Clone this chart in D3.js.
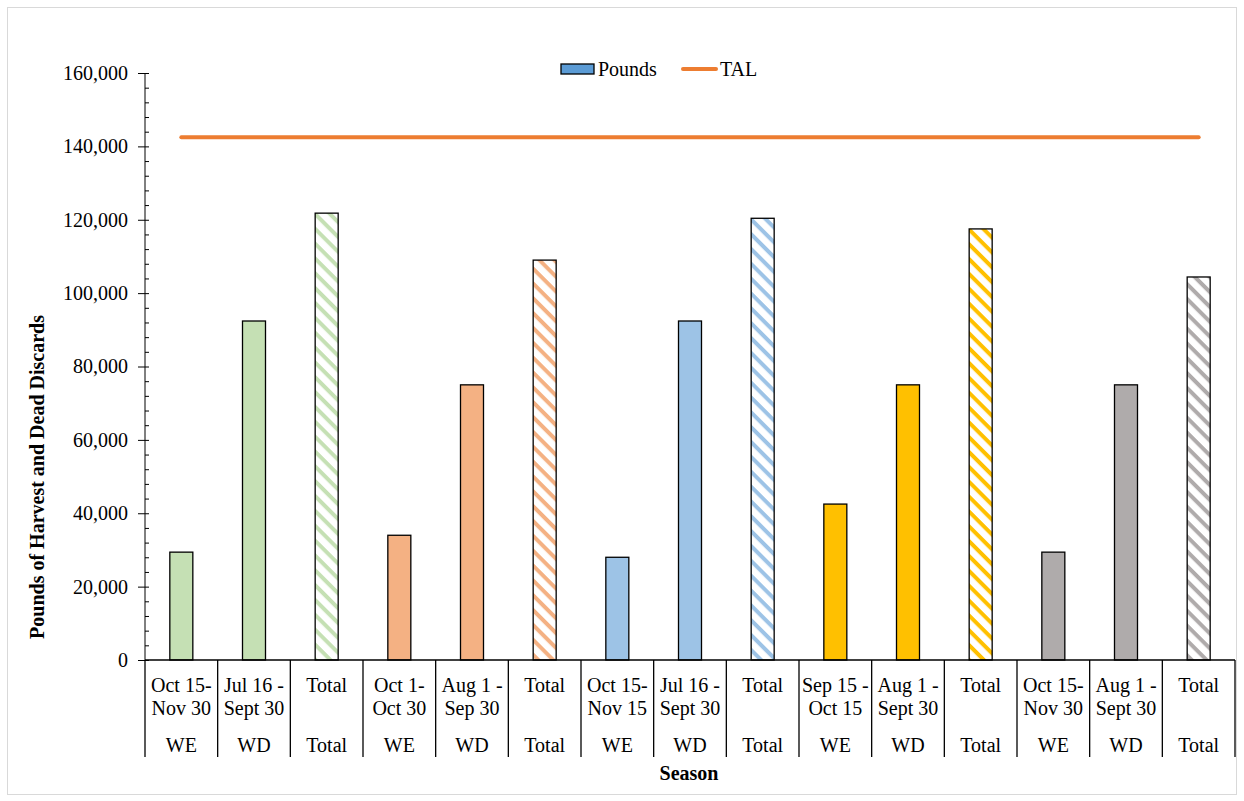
<!DOCTYPE html>
<html lang="en">
<head>
    <meta charset="UTF-8">
    <title>Pounds of Harvest and Dead Discards by Season</title>
    <style>
        body { margin: 0; background: #fff; }
        svg text { font-family: "Liberation Serif", "Times New Roman", serif; fill: #000; }
    </style>
</head>
<body>
    <div id="chart"></div>
    <script src="https://d3js.org/d3.v7.min.js"></script>
    <script>
        // Chart values
        const periods = [
            ["Oct 15-", "Nov 30"], ["Jul 16 -", "Sept 30"], ["Total", ""],
            ["Oct 1-", "Oct 30"], ["Aug 1 -", "Sep 30"], ["Total", ""],
            ["Oct 15-", "Nov 15"], ["Jul 16 -", "Sept 30"], ["Total", ""],
            ["Sep 15 -", "Oct 15"], ["Aug 1 -", "Sept 30"], ["Total", ""],
            ["Oct 15-", "Nov 30"], ["Aug 1 -", "Sept 30"], ["Total", ""]
        ];
        const seasons = ["WE", "WD", "Total", "WE", "WD", "Total", "WE", "WD", "Total",
                         "WE", "WD", "Total", "WE", "WD", "Total"];
        const pounds = [29400, 92400, 121800, 34000, 75000, 109000, 28000, 92400, 120400,
                        42500, 75000, 117500, 29400, 75000, 104400];
        const tal = 142500;
        const groupColors = ["#C5E0B4", "#F4B183", "#9DC3E6", "#FFC000", "#AFABAB"];
        const yTicks = [0, 20000, 40000, 60000, 80000, 100000, 120000, 140000, 160000];

        const width = 1244, height = 801;
        const plotLeft = 145, plotRight = 1235, plotTop = 73, plotBottom = 660;

        const svg = d3.select("#chart").append("svg")
            .attr("width", width)
            .attr("height", height);

        // light chart border
        svg.append("rect")
            .attr("x", 7.5).attr("y", 7.5)
            .attr("width", 1229).attr("height", 787)
            .attr("fill", "none")
            .attr("stroke", "#d9d9d9");

        const idx = d3.range(pounds.length);
        const x = d3.scaleBand().domain(idx).range([plotLeft, plotRight]).padding(0);
        const y = d3.scaleLinear().domain([0, 160000]).range([plotBottom, plotTop]);

        // hatch patterns for the total bars
        const defs = svg.append("defs");
        groupColors.forEach((c, i) => {
            const p = defs.append("pattern")
                .attr("id", "hatch" + i)
                .attr("patternUnits", "userSpaceOnUse")
                .attr("width", 10.5).attr("height", 10.5)
                .attr("patternTransform", "rotate(45)");
            p.append("rect").attr("width", 10.5).attr("height", 10.5).attr("fill", "#fff");
            p.append("rect").attr("width", 10.5).attr("height", 4).attr("fill", c);
        });

        // y axis: major ticks to the left, minor ticks inside
        svg.append("g")
            .attr("transform", `translate(${plotLeft},0)`)
            .call(d3.axisLeft(y).tickValues(d3.range(0, 160001, 4000)).tickSize(-4).tickFormat(""))
            .call(g => g.select(".domain").remove())
            .call(g => g.selectAll("line").attr("stroke", "#000"));

        const yAxis = svg.append("g")
            .attr("transform", `translate(${plotLeft},0)`)
            .call(d3.axisLeft(y).tickValues(yTicks).tickSize(7).tickPadding(10)
                .tickFormat(d3.format(",")));
        yAxis.select(".domain").attr("stroke", "#000").attr("d", `M0,${plotBottom}V${plotTop}`);
        yAxis.selectAll("line").attr("stroke", "#000");
        yAxis.selectAll("text")
            .style("font-family", "Liberation Serif, serif")
            .style("font-size", "20px");

        // bars
        const barW = 23;
        svg.append("g").selectAll("rect")
            .data(idx)
            .join("rect")
            .attr("x", i => x(i) + x.bandwidth() / 2 - barW / 2)
            .attr("y", i => y(pounds[i]))
            .attr("width", barW)
            .attr("height", i => y(0) - y(pounds[i]))
            .attr("fill", i => seasons[i] === "Total" ? `url(#hatch${Math.floor(i / 3)})` : groupColors[Math.floor(i / 3)])
            .attr("stroke", "#000")
            .attr("stroke-width", 1.3);

        // TAL line
        svg.append("path")
            .datum(idx)
            .attr("d", d3.line().x(i => x(i) + x.bandwidth() / 2).y(() => y(tal)))
            .attr("fill", "none")
            .attr("stroke", "#ED7D31")
            .attr("stroke-width", 4)
            .attr("stroke-linecap", "round");

        // x axis line and category dividers
        svg.append("line")
            .attr("x1", plotLeft).attr("x2", plotRight)
            .attr("y1", plotBottom).attr("y2", plotBottom)
            .attr("stroke", "#000").attr("stroke-width", 1.3);

        const bounds = idx.map(i => x(i)).concat([plotRight]);
        svg.append("g").selectAll("line")
            .data(bounds)
            .join("line")
            .attr("x1", d => d).attr("x2", d => d)
            .attr("y1", plotBottom).attr("y2", 757)
            .attr("stroke", "#000").attr("stroke-width", 1.3);

        const lab = svg.append("g").attr("font-size", 20).attr("text-anchor", "middle");
        idx.forEach(i => {
            const cx = x(i) + x.bandwidth() / 2;
            lab.append("text").attr("x", cx).attr("y", 692).text(periods[i][0]);
            lab.append("text").attr("x", cx).attr("y", 715).text(periods[i][1]);
            lab.append("text").attr("x", cx).attr("y", 752).text(seasons[i]);
        });

        // axis titles
        svg.append("text")
            .attr("x", 689).attr("y", 780)
            .attr("text-anchor", "middle")
            .attr("font-size", 20).attr("font-weight", "bold")
            .text("Season");

        svg.append("text")
            .attr("transform", "translate(44,477) rotate(-90)")
            .attr("text-anchor", "middle")
            .attr("font-size", 20).attr("font-weight", "bold")
            .text("Pounds of Harvest and Dead Discards");

        // legend
        const legend = svg.append("g").attr("font-size", 20);
        legend.append("rect")
            .attr("x", 561).attr("y", 64).attr("width", 33).attr("height", 10)
            .attr("fill", "#5B9BD5").attr("stroke", "#000").attr("stroke-width", 1.3);
        legend.append("text").attr("x", 598).attr("y", 76).text("Pounds");
        legend.append("line")
            .attr("x1", 683).attr("x2", 716).attr("y1", 69).attr("y2", 69)
            .attr("stroke", "#ED7D31").attr("stroke-width", 4).attr("stroke-linecap", "round");
        legend.append("text").attr("x", 720).attr("y", 76).text("TAL");
    </script>
</body>
</html>
